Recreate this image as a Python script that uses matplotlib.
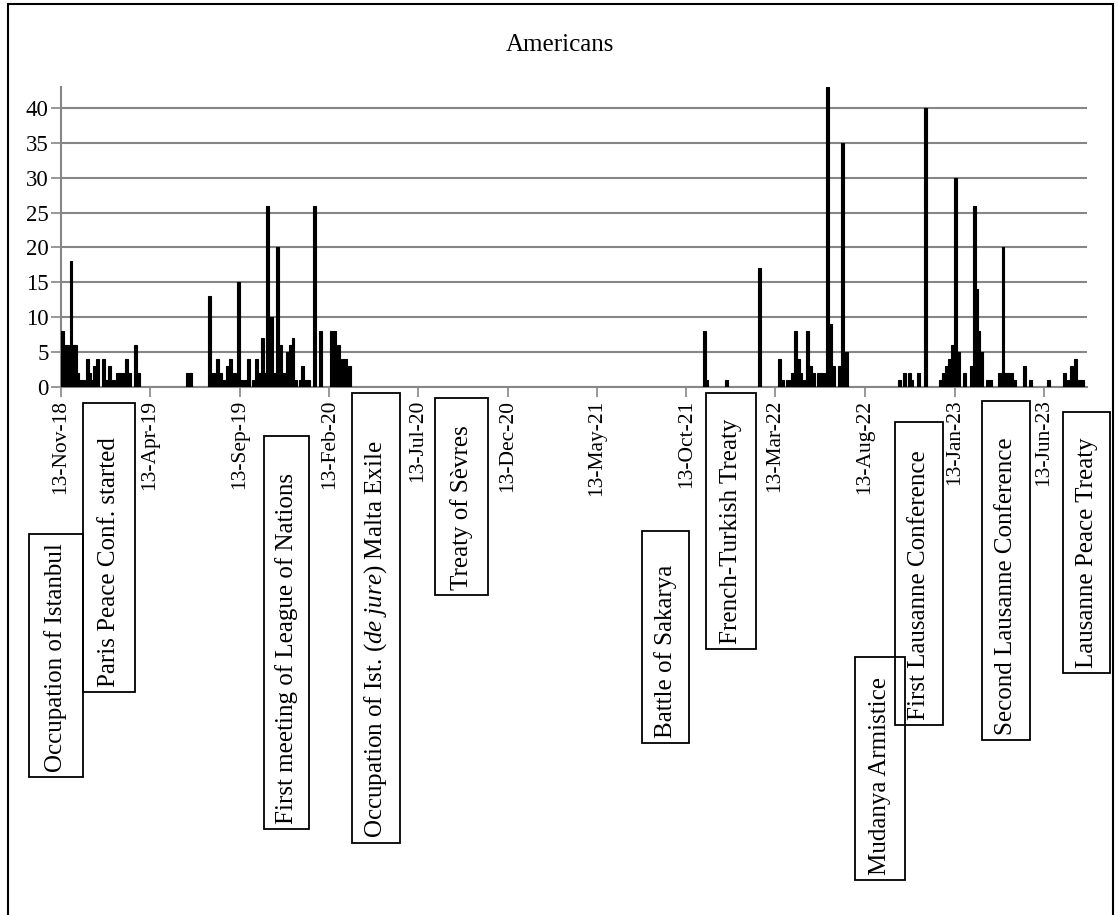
import matplotlib
matplotlib.use("Agg")
import matplotlib.pyplot as plt
import matplotlib.dates as mdates
import matplotlib.patches as patches
import pandas as pd

plt.rcParams['font.family'] = ['Liberation Serif', 'DejaVu Serif']
plt.rcParams['mathtext.fontset'] = 'custom'
plt.rcParams['mathtext.rm'] = 'Liberation Serif'
plt.rcParams['mathtext.it'] = 'Liberation Serif:italic'

# --- data (counts per date) ---
dates_1918_20 = ['1918-11-16', '1918-11-19', '1918-11-24', '1918-11-30', '1918-12-05', '1918-12-08',
                 '1918-12-12', '1918-12-16', '1918-12-21', '1918-12-28', '1919-01-01', '1919-01-05',
                 '1919-01-09', '1919-01-14', '1919-01-25', '1919-01-30', '1919-02-04', '1919-02-10',
                 '1919-02-17', '1919-02-22', '1919-02-27', '1919-03-04', '1919-03-10', '1919-03-20',
                 '1919-03-25', '1919-06-17', '1919-06-22',
                 '1919-07-24', '1919-07-31', '1919-08-06', '1919-08-11', '1919-08-17', '1919-08-23',
                 '1919-08-29', '1919-09-05', '1919-09-11', '1919-09-17', '1919-09-23', '1919-09-29',
                 '1919-10-06', '1919-10-12', '1919-10-17', '1919-10-22', '1919-10-27', '1919-10-31',
                 '1919-11-06', '1919-11-12', '1919-11-16', '1919-11-22', '1919-11-27', '1919-12-03',
                 '1919-12-09', '1919-12-13', '1919-12-18', '1919-12-26', '1919-12-30', '1920-01-03',
                 '1920-01-08', '1920-01-18', '1920-01-29', '1920-02-17', '1920-02-22', '1920-02-28',
                 '1920-03-06', '1920-03-11', '1920-03-18']
counts_1918_20 = [8, 6, 6, 18, 6, 6,
                  2, 1, 1, 4, 2, 1,
                  3, 4, 4, 1, 3, 1,
                  2, 2, 2, 4, 2, 6,
                  2, 2, 2,
                  13, 2, 4, 2, 1, 3,
                  4, 2, 15, 1, 1, 4,
                  1, 4, 2, 7, 2, 26,
                  10, 2, 20, 6, 2, 5,
                  6, 7, 1, 1, 3, 1,
                  1, 26, 8, 8, 8, 6,
                  4, 4, 3]

dates_1921_23 = ['1921-11-12', '1921-11-16', '1921-12-20', '1922-02-14', '1922-03-21', '1922-03-25',
                 '1922-04-03', '1922-04-08', '1922-04-12', '1922-04-16', '1922-04-21', '1922-04-26',
                 '1922-05-01', '1922-05-07', '1922-05-12', '1922-05-18', '1922-05-25', '1922-05-30',
                 '1922-06-03', '1922-06-10', '1922-06-16', '1922-06-20', '1922-07-01', '1922-07-06',
                 '1922-07-12',
                 '1922-10-10', '1922-10-19', '1922-10-28', '1922-11-01', '1922-11-12', '1922-11-24',
                 '1922-12-19', '1922-12-25', '1922-12-30', '1923-01-04', '1923-01-09', '1923-01-14',
                 '1923-01-20', '1923-01-30', '1923-02-11', '1923-02-15', '1923-02-19', '1923-02-23',
                 '1923-02-28', '1923-03-10', '1923-03-15', '1923-03-30', '1923-04-05', '1923-04-09',
                 '1923-04-14', '1923-04-19', '1923-04-24', '1923-05-12', '1923-05-22', '1923-06-22',
                 '1923-07-19', '1923-07-24', '1923-07-30', '1923-08-03', '1923-08-07', '1923-08-13',
                 '1923-08-18']
counts_1921_23 = [8, 1, 1, 17, 4, 1,
                  1, 1, 2, 8, 4, 2,
                  1, 8, 3, 2, 2, 2,
                  2, 43, 9, 3, 3, 35,
                  5,
                  1, 2, 2, 1, 2, 40,
                  1, 2, 3, 4, 6, 30,
                  5, 2, 3, 26, 14, 8,
                  5, 1, 1, 2, 20, 2,
                  2, 2, 1, 3, 1, 1,
                  2, 1, 3, 2, 4, 1,
                  1]

tick_dates = ['1918-11-13', '1919-04-13', '1919-09-13', '1920-02-13', '1920-07-13', '1920-12-13',
              '1921-05-13', '1921-10-13', '1922-03-13', '1922-08-13', '1923-01-13', '1923-06-13']

events = ['Occupation of Istanbul', 'Paris Peace Conf. started', 'First meeting of League of Nations',
          r'Occupation of Ist. $\mathit{(de\ jure)}$ Malta Exile', 'Treaty of Sèvres', 'Battle of Sakarya',
          'French-Turkish Treaty', 'Mudanya Armistice', 'First Lausanne Conference',
          'Second Lausanne Conference', 'Lausanne Peace Treaty']
# box layout in pixels: left, top, right, bottom
event_boxes = [(29, 534, 83, 777), (83, 403, 135, 692), (264, 436, 309, 829), (352, 393, 400, 843),
               (435, 398, 488, 595), (642, 531, 689, 743), (706, 393, 756, 649), (855, 657, 905, 880),
               (895, 422, 943, 725), (982, 401, 1030, 740), (1063, 412, 1110, 673)]

W, H = 1118, 915
fig = plt.figure(figsize=(W / 100, H / 100), dpi=100)
ax = fig.add_axes([61 / W, 1 - 387 / H, (1087 - 61) / W, (387 - 87) / H])

grid_col = '#868686'
x_all = pd.to_datetime(dates_1918_20 + dates_1921_23)
y_all = counts_1918_20 + counts_1921_23
ax.bar(x_all, y_all, width=5, color='black', edgecolor='black', linewidth=0.8, zorder=3)

ax.set_xlim(pd.Timestamp('1918-11-13'), pd.Timestamp('1923-08-26'))
ax.set_ylim(0, 43)
ax.set_yticks(range(0, 41, 5))
ax.set_xticks(pd.to_datetime(tick_dates))
ax.xaxis.set_major_formatter(mdates.DateFormatter('%d-%b-%y'))
ax.tick_params(axis='x', rotation=90, length=7, width=1.2, color=grid_col, labelsize=15.5, pad=2)
ax.tick_params(axis='y', length=7, width=1.2, color=grid_col, labelsize=16.5, pad=2)
ax.grid(axis='y', color=grid_col, linewidth=1.5, zorder=0)
ax.set_axisbelow(True)
for s in ['top', 'right']:
    ax.spines[s].set_visible(False)
for s in ['left', 'bottom']:
    ax.spines[s].set_color(grid_col)
    ax.spines[s].set_linewidth(1.5)

fig.text(560 / W, 1 - 45 / H, 'Americans', ha='center', va='center', fontsize=18)

# event boxes
for name, (l, t, r, b) in zip(events, event_boxes):
    rect = patches.Rectangle((l / W, 1 - b / H), (r - l) / W, (b - t) / H, transform=fig.transFigure,
                             fill=False, edgecolor='black', linewidth=1.3)
    fig.add_artist(rect)
    fig.text((l + r) / 2 / W, 1 - (b - 5) / H, name, rotation=90, ha='center', va='bottom', fontsize=18)

# outer frame
fig.add_artist(patches.Rectangle((8 / W, -0.05), (1113 - 8) / W, 1.05 - 4 / H, transform=fig.transFigure,
                                 fill=False, edgecolor='black', linewidth=1.5))

fig.savefig('out.png', dpi=100)
